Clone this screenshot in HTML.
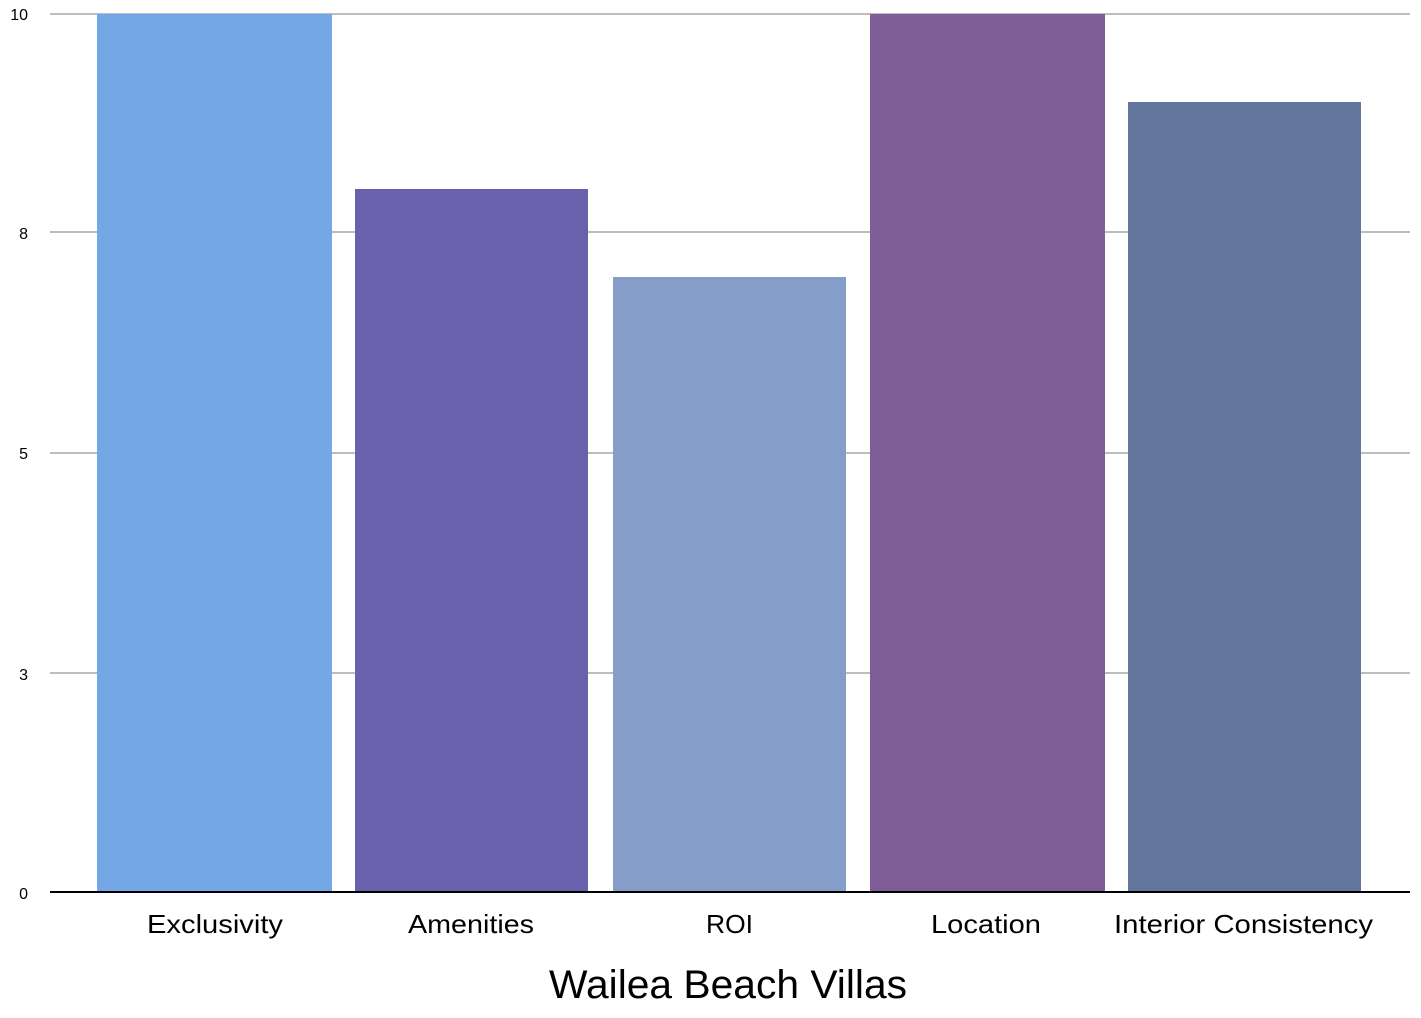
<!DOCTYPE html>
<html><head><style>body{margin:0;background:#fff}</style></head><body>
<svg width="1421" height="1013" xmlns="http://www.w3.org/2000/svg" font-family="Liberation Sans, sans-serif">
<g stroke="#bdbdbd" stroke-width="2">
<line x1="50" y1="14" x2="1410" y2="14"/>
<line x1="50" y1="232" x2="1410" y2="232"/>
<line x1="50" y1="453" x2="1410" y2="453"/>
<line x1="50" y1="673" x2="1410" y2="673"/>
</g>
<rect x="97" y="14" width="235" height="878" fill="#74a7e6"/>
<rect x="355" y="189" width="233" height="703" fill="#6961ab"/>
<rect x="613" y="277" width="233" height="615" fill="#849ec9"/>
<rect x="870" y="14" width="235" height="878" fill="#7f5e97"/>
<rect x="1128" y="102" width="233" height="790" fill="#62769b"/>
<line x1="50" y1="892" x2="1410" y2="892" stroke="#000" stroke-width="2"/>
<g font-size="16" text-anchor="end" fill="#000">
<text x="28" y="20">10</text>
<text x="28" y="239">8</text>
<text x="28" y="459">5</text>
<text x="28" y="680">3</text>
<text x="28" y="899">0</text>
</g>
<g font-size="26" fill="#000">
<text x="147" y="933" textLength="136" lengthAdjust="spacingAndGlyphs">Exclusivity</text>
<text x="408" y="933" textLength="126" lengthAdjust="spacingAndGlyphs">Amenities</text>
<text x="706" y="933" textLength="47" lengthAdjust="spacingAndGlyphs">ROI</text>
<text x="931" y="933" textLength="110" lengthAdjust="spacingAndGlyphs">Location</text>
<text x="1114" y="933" textLength="259" lengthAdjust="spacingAndGlyphs">Interior Consistency</text>
</g>
<text x="549" y="998" font-size="40" fill="#000" textLength="358" lengthAdjust="spacingAndGlyphs">Wailea Beach Villas</text>
</svg>
</body></html>
